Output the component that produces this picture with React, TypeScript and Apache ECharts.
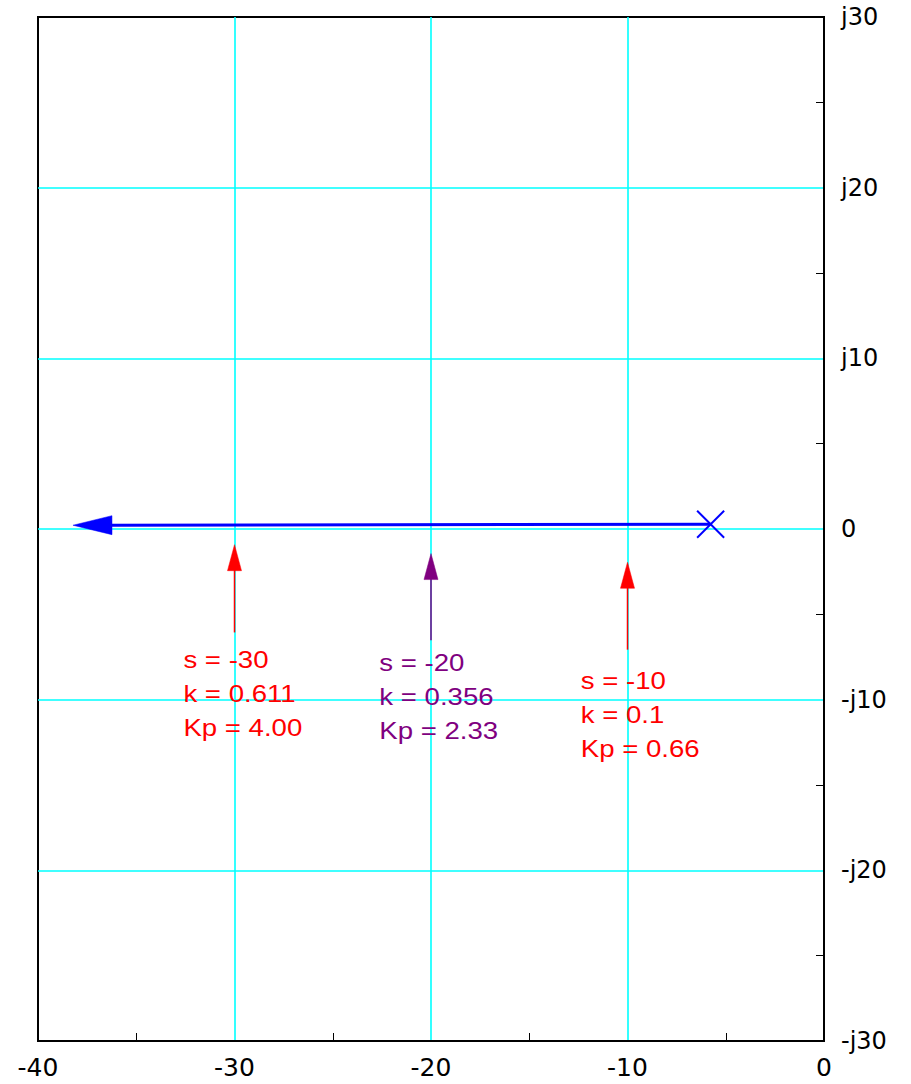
import React, { useEffect, useRef } from "react";
import * as echarts from "echarts";

// Real-axis ticks (sigma) and imaginary-axis ticks (j omega)
const xTicks = [-40, -30, -20, -10, 0];
const yTicks = [-30, -20, -10, 0, 10, 20, 30];

// Open-loop pole (cross marker)
const poles: number[][] = [[-5.77, 0.28]];

// Root locus branch: from pole towards -infinity [x1, y1, x2, y2]
const locusBranch: number[][] = [[-5.77, 0.28, -38.22, 0.22]];

// Pointer arrows [xTail, yTail, xTip, yTip]
const pointerArrows: number[][] = [
  [-30, -6.06, -30, -0.92],
  [-20, -6.52, -20, -1.44],
  [-10, -7.07, -10, -1.95],
];

// Annotation anchor positions [x, y] (top-left of text block)
const annotationAnchors: number[][] = [
  [-32.6, -6.7],
  [-22.63, -6.87],
  [-12.38, -7.88],
];
const annotationS = ["-30", "-20", "-10"];
const annotationK = ["0.611", "0.356", "0.1"];
const annotationKp = ["4.00", "2.33", "0.66"];

const RED = "#ff0000";
const PURPLE = "#800080";
const BLUE = "#0000ff";
const CYAN = "#00ffff";
const annotationColors = [RED, PURPLE, RED];

const FONT = "DejaVu Sans";
const ANNOT_FONT = "Liberation Sans";

function arrowShape(
  p1: number[],
  p2: number[],
  headLen: number,
  halfW: number,
  lineW: number,
  color: string
) {
  const dx = p2[0] - p1[0];
  const dy = p2[1] - p1[1];
  const len = Math.sqrt(dx * dx + dy * dy) || 1;
  const ux = dx / len;
  const uy = dy / len;
  const bx = p2[0] - ux * headLen;
  const by = p2[1] - uy * headLen;
  const px = -uy;
  const py = ux;
  return {
    type: "group",
    children: [
      {
        type: "line",
        shape: { x1: p1[0], y1: p1[1], x2: bx + ux * 2, y2: by + uy * 2 },
        style: { stroke: color, lineWidth: lineW },
      },
      {
        type: "polygon",
        shape: {
          points: [
            [p2[0], p2[1]],
            [bx + px * halfW, by + py * halfW],
            [bx - px * halfW, by - py * halfW],
          ],
        },
        style: { fill: color, stroke: color, lineWidth: 0.5 },
      },
    ],
  };
}

export default function App() {
  const ref = useRef<HTMLDivElement>(null);

  useEffect(() => {
    if (!ref.current) return;
    const chart = echarts.init(ref.current, null, { renderer: "svg" });

    const axisCommon = {
      type: "value",
      interval: 10,
      axisLine: { show: true, onZero: false, lineStyle: { color: "#000", width: 2 } },
      axisTick: { show: false, inside: true },
      minorTick: { show: true, splitNumber: 2, length: 8, lineStyle: { color: "#000", width: 1 } },
      splitLine: {
        show: true,
        showMinLine: false,
        showMaxLine: false,
        lineStyle: { color: [CYAN], width: 1.6, opacity: 1 },
      },
    };

    const option: any = {
      animation: false,
      backgroundColor: "#ffffff",
      grid: {
        left: 38,
        right: 87,
        top: 17,
        bottom: 43,
        show: true,
        borderColor: "#000000",
        borderWidth: 2,
        backgroundColor: "transparent",
      },
      xAxis: {
        ...axisCommon,
        min: xTicks[0],
        max: xTicks[xTicks.length - 1],
        position: "bottom",
        axisLabel: {
          show: true,
          margin: 14,
          color: "#000",
          fontFamily: FONT,
          fontSize: 25,
          showMinLabel: true,
          showMaxLabel: true,
          formatter: (v: number) => String(v),
        },
      },
      yAxis: {
        ...axisCommon,
        min: yTicks[0],
        max: yTicks[yTicks.length - 1],
        position: "right",
        axisLabel: {
          show: true,
          margin: 17,
          color: "#000",
          fontFamily: FONT,
          fontSize: 24,
          showMinLabel: true,
          showMaxLabel: true,
          formatter: (v: number) =>
            v === 0 ? "0" : v > 0 ? "j" + v : "-j" + -v,
        },
      },
      series: [
        {
          type: "custom",
          name: "locus",
          coordinateSystem: "cartesian2d",
          data: locusBranch,
          encode: { x: [0, 2], y: [1, 3] },
          z: 5,
          renderItem: (params: any, api: any) => {
            const p1 = api.coord([api.value(0), api.value(1)]);
            const p2 = api.coord([api.value(2), api.value(3)]);
            return arrowShape(p1, p2, 39, 9.5, 3, BLUE);
          },
        },
        {
          type: "custom",
          name: "pole",
          coordinateSystem: "cartesian2d",
          data: poles,
          encode: { x: 0, y: 1 },
          z: 6,
          renderItem: (params: any, api: any) => {
            const c = api.coord([api.value(0), api.value(1)]);
            const h = 13.5;
            return {
              type: "group",
              children: [
                {
                  type: "line",
                  shape: { x1: c[0] - h, y1: c[1] - h, x2: c[0] + h, y2: c[1] + h },
                  style: { stroke: BLUE, lineWidth: 2 },
                },
                {
                  type: "line",
                  shape: { x1: c[0] - h, y1: c[1] + h, x2: c[0] + h, y2: c[1] - h },
                  style: { stroke: BLUE, lineWidth: 2 },
                },
              ],
            };
          },
        },
        {
          type: "custom",
          name: "pointers",
          coordinateSystem: "cartesian2d",
          data: pointerArrows,
          encode: { x: [0, 2], y: [1, 3] },
          z: 5,
          renderItem: (params: any, api: any) => {
            const p1 = api.coord([api.value(0), api.value(1)]);
            const p2 = api.coord([api.value(2), api.value(3)]);
            return arrowShape(p1, p2, 26, 7, 1.5, annotationColors[params.dataIndex]);
          },
        },
        {
          type: "custom",
          name: "annotations",
          coordinateSystem: "cartesian2d",
          data: annotationAnchors,
          encode: { x: 0, y: 1 },
          z: 5,
          renderItem: (params: any, api: any) => {
            const i = params.dataIndex;
            const p = api.coord([api.value(0), api.value(1)]);
            return {
              type: "text",
              x: p[0],
              y: p[1],
              scaleX: 1.2,
              style: {
                text:
                  "s = " + annotationS[i] +
                  "\nk = " + annotationK[i] +
                  "\nKp = " + annotationKp[i],
                fill: annotationColors[i],
                font: "23px '" + ANNOT_FONT + "'",
                lineHeight: 34,
                align: "left",
                verticalAlign: "top",
              },
            };
          },
        },
      ],
    };

    chart.setOption(option);
    return () => chart.dispose();
  }, []);

  return (
    <div
      ref={ref}
      style={{ position: "absolute", left: 0, top: 0, width: 911, height: 1084, background: "#fff" }}
    />
  );
}
